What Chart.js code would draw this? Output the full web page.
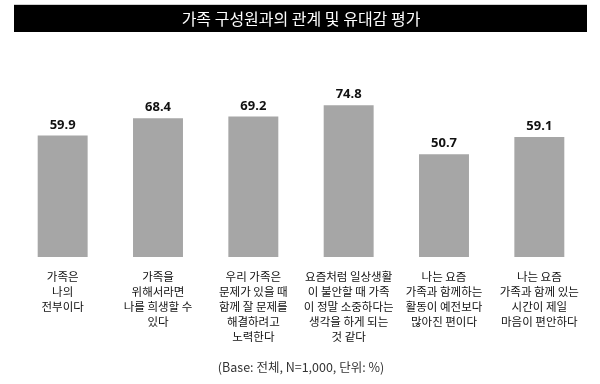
<!DOCTYPE html>
<html>
<head>
<meta charset="utf-8">
<script src="https://cdn.jsdelivr.net/npm/chart.js@4"></script>
<style>
    html, body { margin: 0; padding: 0; background: #fff; }
    #wrap { width: 600px; height: 384px; }
</style>
</head>
<body>
<div id="wrap"><canvas id="familyChart" width="600" height="384"></canvas></div>
<script>
const titleText = "가족 구성원과의 관계 및 유대감 평가";
const footText = "(Base: 전체, N=1,000, 단위: %)";

const categories = [
    ["가족은", "나의", "전부이다"],
    ["가족을", "위해서라면", "나를 희생할 수", "있다"],
    ["우리 가족은", "문제가 있을 때", "함께 잘 문제를", "해결하려고", "노력한다"],
    ["요즘처럼 일상생활", "이 불안할 때 가족", "이 정말 소중하다는", "생각을 하게 되는", "것 같다"],
    ["나는 요즘", "가족과 함께하는", "활동이 예전보다", "많아진 편이다"],
    ["나는 요즘", "가족과 함께 있는", "시간이 제일", "마음이 편안하다"]
];
const values = [59.9, 68.4, 69.2, 74.8, 50.7, 59.1];

const fontKr = "'Noto Sans CJK KR', 'Noto Sans', sans-serif";

// black bar behind the title
const titleBar = {
    id: "titleBar",
    beforeDraw(chart) {
        const ctx = chart.ctx;
        ctx.save();
        ctx.fillStyle = "#d0d0d0";
        ctx.fillRect(14, 4, 573, 1);
        ctx.fillStyle = "#000";
        ctx.fillRect(14, 5, 573, 27);
        ctx.restore();
    }
};

// value labels above the bars
const valueLabels = {
    id: "valueLabels",
    afterDatasetsDraw(chart) {
        const ctx = chart.ctx;
        const meta = chart.getDatasetMeta(0);
        ctx.save();
        ctx.font = "bold 13px 'Noto Sans', sans-serif";
        ctx.fillStyle = "#111";
        ctx.textAlign = "center";
        ctx.textBaseline = "bottom";
        meta.data.forEach((bar, i) => {
            ctx.fillText(values[i].toFixed(1), bar.x, bar.y - 4);
        });
        ctx.restore();
    }
};

new Chart(document.getElementById("familyChart").getContext("2d"), {
    type: "bar",
    data: {
        labels: categories,
        datasets: [{
            data: values,
            backgroundColor: "#a6a6a6",
            borderWidth: 0,
            barPercentage: 1,
            categoryPercentage: 0.524
        }]
    },
    options: {
        responsive: false,
        animation: false,
        layout: {
            padding: { left: 15, right: 13, top: 0, bottom: 0 }
        },
        scales: {
            x: {
                grid: { display: false, drawTicks: false },
                border: { display: false },
                ticks: {
                    color: "#111",
                    padding: 12,
                    maxRotation: 0,
                    autoSkip: false,
                    font: { family: fontKr, size: 11.5, lineHeight: 1.3 }
                },
                afterFit: function(axis) {
                    axis.height = 92.4;
                }
            },
            y: {
                display: false,
                min: 0,
                max: 100
            }
        },
        plugins: {
            legend: { display: false },
            tooltip: { enabled: false },
            title: {
                display: true,
                text: titleText,
                color: "#fff",
                font: { family: fontKr, size: 16, weight: "normal", lineHeight: 1.2 },
                padding: { top: 8.9, bottom: 25.9 }
            },
            subtitle: {
                display: true,
                position: "bottom",
                text: footText,
                color: "#333",
                font: { family: fontKr, size: 12.5, weight: "normal", lineHeight: 1.2 },
                padding: { top: 10, bottom: 9.5 }
            }
        }
    },
    plugins: [titleBar, valueLabels]
});
</script>
</body>
</html>
